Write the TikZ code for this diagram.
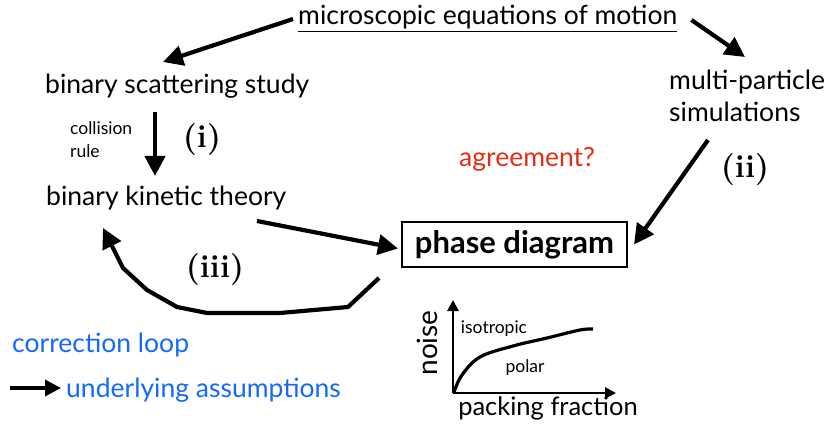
\documentclass[tikz,border=0pt]{standalone}
\usepackage{fontspec}
\setsansfont{Lato}
\usepackage{tikz}
\usetikzlibrary{arrows.meta, positioning}
\definecolor{loopblue}{RGB}{20, 105, 250}
\definecolor{agreered}{RGB}{230, 45, 20}

\tikzset{
  lbl/.style={font=\sffamily\fontsize{26.5}{30}\selectfont, inner sep=0pt, anchor=base west},
  smalllbl/.style={font=\sffamily\fontsize{17.5}{22}\selectfont, inner sep=0pt},
  numlbl/.style={font=\bfseries\fontsize{32}{36}\selectfont, inner sep=0pt},
  flow/.style={line width=4.2pt, -{Triangle[length=20pt,width=20pt]}},
  axisline/.style={line width=2.8pt, -{Triangle[length=11pt,width=11pt]}},
}

\begin{document}
\begin{tikzpicture}[x=1pt, y=-1pt]
        \useasboundingbox (0,0) rectangle (825,425);

        % Main labels
        \node[lbl] (micro) at (298,25) {\underline{microscopic equations of motion}};
        \node[lbl] (scatter) at (45,94) {binary scattering study};
        \node[lbl] (kinetic) at (46,205) {binary kinetic theory};
        \node[lbl] (multi) at (669,90) {multi-particle};
        \node[lbl] (simul) at (669,122) {simulations};
        \node[lbl, text=agreered] (agree) at (459,167) {agreement?};
        \node[draw, line width=2pt, inner sep=0pt, minimum width=225pt, minimum height=45pt,
              font=\sffamily\bfseries\fontsize{31}{34}\selectfont] (phase) at (514.5,244.5) {phase diagram};

        \node[smalllbl, anchor=base west] (coll) at (70,135) {collision};
        \node[smalllbl, anchor=base west] (rule) at (70,158) {rule};
        \node[numlbl] (one) at (202,140) {(i)};
        \node[numlbl] (two) at (745,170) {(ii)};
        \node[numlbl] (three) at (215,270) {(iii)};

        % Arrows
        \draw[flow] ([xshift=-5pt,yshift=6pt]micro.base west) -- ([xshift=118pt,yshift=32pt]scatter.base west);
        \draw[flow] ([xshift=14pt,yshift=5pt]micro.base east) -- ([xshift=76pt,yshift=33pt]multi.base west);
        \draw[flow] ([xshift=110pt,yshift=-18pt]scatter.base west) -- ([xshift=109pt,yshift=29pt]kinetic.base west);
        \draw[flow] ([xshift=39pt,yshift=-18pt]simul.base west) -- ([xshift=6pt,yshift=0pt]phase.east);
        \draw[flow] ([xshift=211pt,yshift=-16pt]kinetic.base west) -- ([xshift=-3pt,yshift=-4pt]phase.west);

        % Correction loop
        \draw[flow, line join=round] ([xshift=-22pt,yshift=-10pt]phase.south west) -- (348,307) -- (280,313)
              -- (207,313) -- (177,307) -- (147,290) -- (123,268) -- ([xshift=57pt,yshift=-23pt]kinetic.base west);

        % Legend
        \node[lbl, text=loopblue] (corr) at (12,352) {correction loop};
        \node[lbl, text=loopblue] (assume) at (66,397) {underlying assumptions};
        \coordinate (legstart) at (10,388);
        \draw[flow, -{Triangle[length=16pt,width=16pt]}, line width=3.5pt] (legstart) -- ([xshift=-5pt,yshift=9pt]assume.base west);

        % Sketch of phase diagram
        \coordinate (orig) at (453,393);
        \coordinate (ytop) at (453,300);
        \coordinate (xend) at (616,393);
        \draw[axisline] (orig) -- (ytop);
        \draw[axisline] (orig) -- (xend);
        \draw[line width=3.2pt] plot[smooth, tension=0.6] coordinates {(454,392) (462,375) (480,357) (513,346) (547,338) (580,330) (593,329)};
        \node[smalllbl] (iso) at (494,329) {isotropic};
        \node[smalllbl] (polar) at (525,368) {polar};
        \node[font=\sffamily\fontsize{28}{32}\selectfont, inner sep=0pt, rotate=90] (noise) at (427,343) {noise};
        \node[font=\sffamily\fontsize{25.5}{30}\selectfont, inner sep=0pt] (pack) at (548,408) {packing fraction};
    \end{tikzpicture}
\end{document}
